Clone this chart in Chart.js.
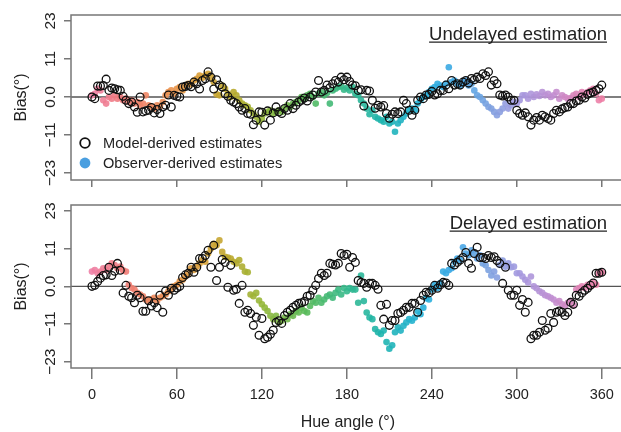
<!DOCTYPE html>
<html>
<head>
<meta charset="utf-8">
<script src="https://cdn.jsdelivr.net/npm/chart.js@4.4.1/dist/chart.umd.min.js"></script>
<style>
  body { margin: 0; background: #fff; overflow: hidden; width: 621px; height: 432px; position: relative; }
  canvas { position: absolute; left: 0; }
  #top { top: 0; }
  #bottom { top: 195px; }
</style>
</head>
<body>
<canvas id="top" width="630" height="195"></canvas>
<canvas id="bottom" width="630" height="237"></canvas>
<script>
// hue angle of each stimulus (deg)
const hue = [
  0, 2, 4, 6, 8, 10, 12, 14, 16, 18, 20, 22, 24, 26, 28, 30, 32, 34, 36, 38,
  40, 42, 44, 46, 48, 50, 52, 54, 56, 58, 60, 62, 64, 66, 68, 70, 72, 74, 76, 78,
  80, 82, 84, 86, 88, 90, 92, 94, 96, 98, 100, 102, 104, 106, 108, 110, 112, 114, 116, 118,
  120, 122, 124, 126, 128, 130, 132, 134, 136, 138, 140, 142, 144, 146, 148, 150, 152, 154, 156, 158,
  160, 162, 164, 166, 168, 170, 172, 174, 176, 178, 180, 182, 184, 186, 188, 190, 192, 194, 196, 198,
  200, 202, 204, 206, 208, 210, 212, 214, 216, 218, 220, 222, 224, 226, 228, 230, 232, 234, 236, 238,
  240, 242, 244, 246, 248, 250, 252, 254, 256, 258, 260, 262, 264, 266, 268, 270, 272, 274, 276, 278,
  280, 282, 284, 286, 288, 290, 292, 294, 296, 298, 300, 302, 304, 306, 308, 310, 312, 314, 316, 318,
  320, 322, 324, 326, 328, 330, 332, 334, 336, 338, 340, 342, 344, 346, 348, 350, 352, 354, 356, 358,
  360
];

// undelayed estimation
const undelayedModel = [
  0, -0.5, 3.3, 3.3, 3.5, 5.4, 2, 2.7, 2.5, 2.2,
  2, 0.2, -1, -2, -1.5, -3, -4.6, 0, -4.5, -4.2,
  -4, -3.2, -4.8, -3.8, -5, -3, -2.5, 0.6, -3, 0.5,
  0.2, 0, 3, 3.2, 3.5, 3.1, 4.5, 4, 2.4, 5,
  5.5, 7.6, 6, 2.4, 5.2, 3.6, 3, 1, 0.2, -1,
  -1.5, -2, -3, -4, -3.5, -5, -5.2, -8.4, -7, -4.5,
  -4.6, -8.5, -4.2, -7, -4.8, -3, -4.5, -5, -3.5, -4,
  -2, -3.5, -2.5, -1.5, -1, -0.3, -1.2, 0, 0.6, 1.5,
  5, 1.5, 2, 3.6, 2.8, 4, 5, 4.5, 6, 5.2,
  6, 4.7, 3.6, 3.4, 2, 2.2, -2.7, 2, 1.8, -1,
  -3.4, -2.5, -3, -2.6, -5, -6.4, -5.2, -4.5, -5, -4.5,
  -1, -2, -4, -5.5, -4, -1, 0, -0.5, 0.6, 0.8,
  1.7, 0.6, 1, 2, 2, 3.6, 2.5, 5, 3.6, 4,
  3.6, 4.5, 5, 4.2, 5.6, 5.2, 6, 5.6, 7, 6.5,
  7.6, 3.6, 5, 4, 0.6, 0.3, 0.6, 0, -1, -1,
  -4, -5, -5.5, -4.8, -6, -8.5, -7, -6.2, -7, -5.5,
  -6, -6.5, -7, -5, -4, -4.5, -3.6, -3.2, -3, -2,
  -2, -1.2, -1, 0, -0.3, 0.8, 1.2, 1.5, 2, 2.5,
  3.6
];
const undelayedObserver = [
  0.5, 1, 2.5, 2, -1, -2, 0, -0.5, 0.5, -0.5,
  0, -1, -0.5, -1.5, -1, -2, -1.5, -2.5, -2, 0.5,
  -2.5, -3, -3.5, -2.5, -2.8, -1.5, 0.5, 1.5, 2, 1,
  2.5, 3, 2, 3.5, 4, 3.8, 5, 5.5, 6.5, 5.8,
  6.5, 7, 6, 4.5, 0.8, 0.5, 3.5, 2.5, 1, 0,
  1.5, 0.5, -1, -2, -2.5, -3, -4, -5, -6, -7.5,
  -6.5, -5, -4.5, -4, -5, -4.5, -4, -4.5, -3.5, -2.5,
  -3, -2, -1.5, -1, 0, -0.5, 0.5, 1, 0, -2,
  1, 1.5, 0.5, 1.2, -2, 2, 2.5, 3, 3.2, 2.2,
  2.8, 2, 3, 1, 0.5, -1, -2, -3.5, -5.2, -4,
  -6, -6.5, -7, -7.5, -6, -8, -7.5, -10.5, -8, -7,
  -6, -5, -4, -3.5, -4, -2, -1, 0, 0.5, 1.5,
  2.5, 3, 4, 3.5, 3, 4, 9, 4.5, 5, 4,
  3.5, 4.5, 5, 3.5, 4, 2, 0.5, 0, -1, -2,
  -3, -3.5, -4.5, -5.5, -4.5, -3.5, -2, -3.5, -2.5, -1.5,
  -2, -1, 0.5, 0.5, -0.5, 1, 0, 0.8, 0.3, 1.5,
  0.5, 1, 0, 0.5, 1.5, -0.5, 0.5, 0, -0.5, -0.3,
  0.5, 1, 0, 1.5, 0.8, 1.5, 2, 2.5, 1, -1,
  -0.5
];

// delayed estimation
const delayedModel = [
  0, 0.3, 1.5, 2.5, 3.3, 3.5, 5.8, 3.3, 4.6, 7,
  4.9, -2, 0.3, -3, -3.5, -5, -2.7, -3.5, -7.6, -7.6,
  -4.4, -6, -5, -6.5, -2.7, -7.9, -1.4, -2.7, -0.6, -1.2,
  -0.5, 0, 2.7, 3.5, 4, 5.8, 4.3, 5.8, 8.5, 8.5,
  9.4, 11, 5.8, 12.5, 1.8, 5.8, 8.2, 7.3, -0.3, 6.4,
  -1.2, -0.9, -5.2, 0.3, -7.9, -7.3, -8.3, -11.9, -9.4, -14.9,
  -9.8, -16, -15.5, -14.6, -13.4, -11, -10.5, -11.3, -8.9, -7.9,
  -7.3, -6.4, -5.8, -5.2, -5, -4.6, -3, -2.7, -1.2, 0.3,
  2.4, 4, 3.3, 4, 7, 6.7, 6.5, 7, 10, 9.4,
  9.8, 5.8, 8.8, 7.3, 1.8, 1.2, 0.9, -0.3, 0.9, 0.9,
  0.3, -0.9, -5.8, -10, -5.5, -11.9, -10.4, -10.4, -8.3, -8,
  -7.3, -6.4, -6.4, -5.2, -5.2, -7.9, -4.3, -2.7, -1.8, -2,
  -1.2, 0.3, -0.6, 0.5, 1.2, 1, 0.3, 7, 6.5, 7.3,
  8, 8.8, 10.3, 7, 5.5, 10, 11.9, 8.8, 8.8, 8.5,
  9.4, 8.8, 9, 7.9, 7, 0.9, 5.8, -1.2, -2.7, -2.7,
  -1.2, -5.8, -4, -7.9, -4.9, -16, -14.9, -14.9, -14, -10.4,
  -13.4, -12.8, -8.3, -11, -7.9, -7.5, -7.9, -8.9, -7.9, -4.9,
  -5.5, -2.7, -3, -2, -1.2, -0.6, 0.3, 1, 4, 4,
  4.3
];
const delayedObserver = [
  4.5, 5, 4, 4.5, 5.5, 5, 6, 7, 6.5, 5.5,
  6, 4.9, 4.5, 0.5, -0.5, -1, -2, -2.5, -3, -4,
  -4.5, -4, -3.5, -4.5, -3.5, -3, -2.5, -1.5, -1, 0,
  0.5, 1.5, 2, 3, 4, 5.5, 5, 6, 7, 8,
  7.5, 10, 11.5, 13, 12.5, 14, 10.5, 9, 8.8, 8.5,
  7.5, 7, 8, 6, 4.5, 4.3, -2.5, -3, -2, -4.3,
  -5.5, -6.5, -7.5, -9, -10, -9, -11, -10.5, -9.5, -10,
  -8.5, -9, -7.5, -8, -6.5, -7.5, -8, -6, -4.5, -5,
  -3.5, -5, -4, -3, -2.5, -3.5, -2, -1, -2.5, -0.5,
  -1.5, -0.5, -1, -1, -5, 3.3, -4.5, -8, -9.5, -10,
  -13, -14, -14.5, -13.5, -17, -19, -18, -14, -12.5, -13.5,
  -12, -11, -10, -10.5, -9.5, -7.5, -8.5, -6.5, -3.6, -4,
  -1, 0.5, -0.5, 1, 4.5, 4, 5, 5.5, 7.5, 8.5,
  8, 11.9, 10, 9.5, 11, 10, 8.5, 9.5, 7, 6.4,
  5, 3.3, 4.5, 2.7, 6.5, 7.9, 6, 7, 5.8, 6,
  4, 4, 3, 2, 1.2, 3, 0, -0.6, -1.5, -2,
  -2.7, -3, -3.5, -4, -5, -4.5, -5.5, -6, -5, -4.5,
  -5.8, -1, -0.5, 0, -0.5, 0.5, 0, 1, 0.5, 4,
  4.3
];

const xTicks = [0, 60, 120, 180, 240, 300, 360];
const yTicks = [-23, -11.5, 0, 11.5, 23];
const yTickLabels = ['\u221223', '\u221211', '0.0', '11', '23'];

const FONT = '"Liberation Sans", Arial, Helvetica, sans-serif';

// colour of the stimulus at each hue angle
const hueStops = [
  [0, '#ee80a6'], [20, '#ef7a7e'], [40, '#ee8762'], [60, '#e8954a'], [80, '#d6a236'],
  [100, '#b8aa2e'], [120, '#96b83a'], [150, '#5cba58'], [180, '#34b98c'], [205, '#1eb5ae'],
  [235, '#26b0dc'], [260, '#45a7e6'], [280, '#7ca2e0'], [300, '#a29ae0'], [325, '#c08fd2'],
  [345, '#e184b6'], [360, '#ee80a6']
];
function hexRgb(h) {
  return [parseInt(h.slice(1, 3), 16), parseInt(h.slice(3, 5), 16), parseInt(h.slice(5, 7), 16)];
}
function hueColor(a) {
  for (let i = 0; i < hueStops.length - 1; i++) {
    const [a0, c0] = hueStops[i], [a1, c1] = hueStops[i + 1];
    if (a >= a0 && a <= a1) {
      const t = (a - a0) / (a1 - a0), p = hexRgb(c0), q = hexRgb(c1);
      const m = p.map((v, k) => Math.round(v + (q[k] - v) * t));
      return `rgba(${m[0]},${m[1]},${m[2]},0.9)`;
    }
  }
  return '#999';
}

function points(vals) {
  return hue.map((h, i) => ({ x: h, y: vals[i] }));
}

const panelDecor = {
  id: 'panelDecor',
  beforeDatasetsDraw(chart) {
    const { ctx, chartArea: a, scales: { y } } = chart;
    const y0 = y.getPixelForValue(0);
    ctx.save();
    ctx.strokeStyle = '#555';
    ctx.lineWidth = 1.3;
    ctx.beginPath();
    ctx.moveTo(a.left, y0);
    ctx.lineTo(a.right, y0);
    ctx.stroke();
    ctx.restore();
  },
  afterDraw(chart, args, o) {
    const { ctx, chartArea: a, scales: { y } } = chart;
    ctx.save();
    // frame
    ctx.strokeStyle = '#777';
    ctx.lineWidth = 1.5;
    ctx.strokeRect(a.left, a.top, a.right - a.left, a.bottom - a.top);

    // rotated y tick labels
    ctx.fillStyle = '#222';
    ctx.font = '15.5px ' + FONT;
    ctx.textAlign = 'center';
    ctx.textBaseline = 'middle';
    y.ticks.forEach((t, i) => {
      ctx.save();
      ctx.translate(51, y.getPixelForValue(t.value));
      ctx.rotate(-Math.PI / 2);
      ctx.fillText(yTickLabels[i], 0, 0);
      ctx.restore();
    });

    // panel title, underlined
    ctx.font = '18.5px ' + FONT;
    ctx.textAlign = 'right';
    ctx.textBaseline = 'alphabetic';
    ctx.fillText(o.title, 607, o.titleY);
    const w = ctx.measureText(o.title).width;
    ctx.strokeStyle = '#222';
    ctx.lineWidth = 1.2;
    ctx.beginPath();
    ctx.moveTo(607 - w, o.titleY + 2.2);
    ctx.lineTo(607, o.titleY + 2.2);
    ctx.stroke();

    if (o.legend) {
      ctx.font = '14.6px ' + FONT;
      ctx.textAlign = 'left';
      ctx.strokeStyle = '#111';
      ctx.lineWidth = 1.8;
      ctx.beginPath();
      ctx.arc(85, 143, 4.8, 0, Math.PI * 2);
      ctx.stroke();
      ctx.fillText('Model-derived estimates', 103, 147.5);
      ctx.fillStyle = '#4a9fe0';
      ctx.beginPath();
      ctx.arc(85, 163, 5.4, 0, Math.PI * 2);
      ctx.fill();
      ctx.fillStyle = '#222';
      ctx.fillText('Observer-derived estimates', 103, 168);
    }
    ctx.restore();
  }
};

function makePanel(id, model, observer, cfg) {
  return new Chart(document.getElementById(id), {
    type: 'scatter',
    data: {
      datasets: [
        {
          label: 'Model-derived estimates',
          data: points(model),
          pointRadius: 3.9,
          pointBorderWidth: 1.3,
          borderColor: '#111',
          backgroundColor: 'rgba(0,0,0,0)'
        },
        {
          label: 'Observer-derived estimates',
          data: points(observer),
          pointRadius: 3.3,
          pointBorderWidth: 0,
          borderWidth: 0,
          backgroundColor: (c) => c.raw ? hueColor(c.raw.x) : '#999'
        }
      ]
    },
    options: {
      responsive: false,
      animation: false,
      events: [],
      layout: { padding: { top: cfg.padTop, right: 5, left: 0, bottom: 0 } },
      plugins: {
        legend: { display: false },
        tooltip: { enabled: false },
        panelDecor: { title: cfg.title, titleY: cfg.titleY, legend: cfg.legend }
      },
      scales: {
        x: {
          type: 'linear',
          min: -14.8,
          max: 376.2,
          afterBuildTicks: (s) => { s.ticks = xTicks.map(v => ({ value: v })); },
          afterFit: (s) => { s.height = cfg.xHeight; },
          border: { display: false },
          grid: { drawOnChartArea: false, drawTicks: true, tickLength: cfg.xTickLen, color: '#777', lineWidth: 1.5 },
          ticks: {
            display: cfg.xLabels,
            padding: 7,
            color: '#222',
            font: { family: FONT, size: 14.5 }
          },
          title: {
            display: cfg.xLabels,
            text: 'Hue angle (\u00b0)',
            color: '#222',
            font: { family: FONT, size: 16, lineHeight: 1 },
            padding: { top: 0, bottom: 1 }
          }
        },
        y: {
          min: cfg.yMin,
          max: cfg.yMax,
          afterBuildTicks: (s) => { s.ticks = yTicks.map(v => ({ value: v })); },
          afterFit: (s) => { s.width = 71; },
          border: { display: false },
          grid: { drawOnChartArea: false, drawTicks: true, tickLength: 7, color: '#777', lineWidth: 1.5 },
          ticks: { display: false },
          title: {
            display: true,
            text: 'Bias(\u00b0)',
            color: '#222',
            font: { family: FONT, size: 16 },
            padding: { top: 12, bottom: 0 }
          }
        }
      }
    },
    plugins: [panelDecor]
  });
}

makePanel('top', undelayedModel, undelayedObserver, {
  padTop: 15, xHeight: 15, xTickLen: 7, xLabels: false,
  yMin: -25.1, yMax: 24.8, title: 'Undelayed estimation', titleY: 40, legend: true
});
makePanel('bottom', delayedModel, delayedObserver, {
  padTop: 10, xHeight: 64, xTickLen: 11, xLabels: true,
  yMin: -24.9, yMax: 24.8, title: 'Delayed estimation', titleY: 34, legend: false
});
</script>
</body>
</html>
